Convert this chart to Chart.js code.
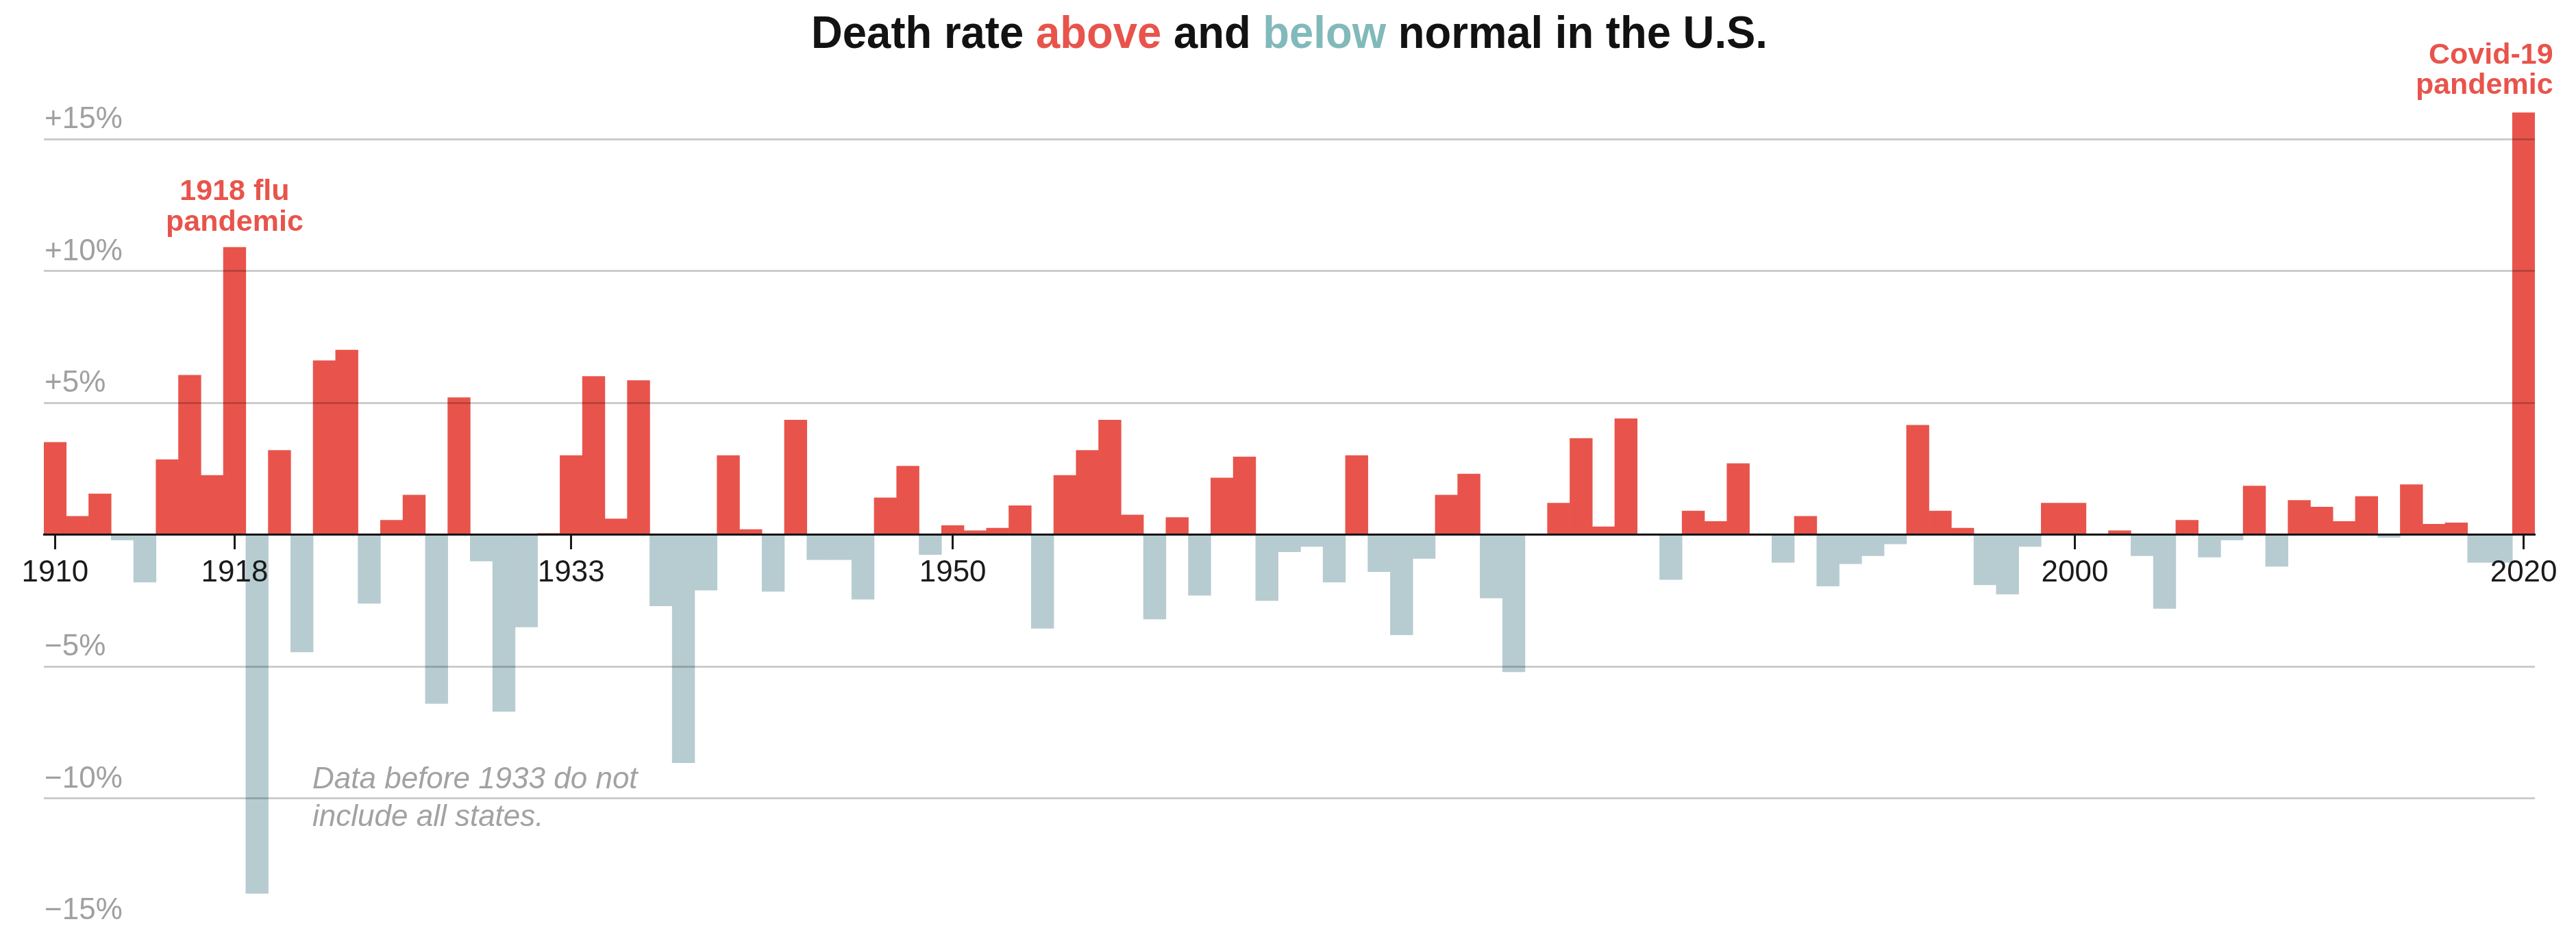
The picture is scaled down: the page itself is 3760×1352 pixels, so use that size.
<!DOCTYPE html>
<html>
<head>
<meta charset="utf-8">
<script src="https://cdn.jsdelivr.net/npm/chart.js@4.4.1/dist/chart.umd.min.js"></script>
<style>
  html, body { margin: 0; padding: 0; background: #ffffff; overflow: hidden; }
  #wrap { width: 3760px; height: 1352px; position: relative; }
</style>
</head>
<body>
<div id="wrap"><canvas id="c" width="3760" height="1352"></canvas></div>
<script>
// ---- Data ----
const years = [
  1910,1911,1912,1913,1914,1915,1916,1917,1918,1919,
  1920,1921,1922,1923,1924,1925,1926,1927,1928,1929,
  1930,1931,1932,1933,1934,1935,1936,1937,1938,1939,
  1940,1941,1942,1943,1944,1945,1946,1947,1948,1949,
  1950,1951,1952,1953,1954,1955,1956,1957,1958,1959,
  1960,1961,1962,1963,1964,1965,1966,1967,1968,1969,
  1970,1971,1972,1973,1974,1975,1976,1977,1978,1979,
  1980,1981,1982,1983,1984,1985,1986,1987,1988,1989,
  1990,1991,1992,1993,1994,1995,1996,1997,1998,1999,
  2000,2001,2002,2003,2004,2005,2006,2007,2008,2009,
  2010,2011,2012,2013,2014,2015,2016,2017,2018,2019,
  2020
];
const excessDeathPct = [
  3.5, 0.7, 1.55, -0.2, -1.8, 2.85, 6.05, 2.25, 10.9, -13.6,
  3.2, -4.45, 6.6, 7.0, -2.6, 0.55, 1.5, -6.4, 5.2, -1.0,
  -6.7, -3.5, 0.05, 3.0, 6.0, 0.6, 5.85, -2.7, -8.65, -2.1,
  3.0, 0.2, -2.15, 4.35, -0.95, -0.95, -2.45, 1.4, 2.6, -0.75,
  0.35, 0.15, 0.25, 1.1, -3.55, 2.25, 3.2, 4.35, 0.75, -3.2,
  0.65, -2.3, 2.15, 2.95, -2.5, -0.65, -0.45, -1.8, 3.0, -1.4,
  -3.8, -0.9, 1.5, 2.3, -2.4, -5.2, 0, 1.2, 3.65, 0.3,
  4.4, 0, -1.7, 0.9, 0.5, 2.7, 0, -1.05, 0.7, -1.95,
  -1.1, -0.8, -0.35, 4.15, 0.9, 0.25, -1.9, -2.25, -0.45, 1.2,
  1.2, 0, 0.15, -0.8, -2.8, 0.55, -0.85, -0.2, 1.85, -1.2,
  1.3, 1.05, 0.5, 1.45, -0.1, 1.9, 0.4, 0.45, -1.05, -1.05,
  16.0
];
const xTickYears = [1910, 1918, 1933, 1950, 2000, 2020];
const yTickValues = [-15, -10, -5, 5, 10, 15];
const yTickLabels = ['\u221215%', '\u221210%', '\u22125%', '+5%', '+10%', '+15%'];

const titleParts = [
  ['Death rate ', 'dark'],
  ['above', 'red'],
  [' and ', 'dark'],
  ['below', 'teal'],
  [' normal in the U.S.', 'dark']
];
const fluNote = ['1918 flu', 'pandemic'];
const covidNote = ['Covid-19', 'pandemic'];
const dataNote = ['Data before 1933 do not', 'include all states.'];

// ---- Styles ----
const RED = '#e8544b';
const BLUEGRAY = '#b7ccd0';
const TEAL = '#82b9ba';
const DARK = '#121212';
const colorOf = { dark: DARK, red: RED, teal: TEAL };
const FONT = "'Liberation Sans', Arial, sans-serif";

const textPlugin = {
  id: 'textPlugin',
  afterDraw(chart) {
    const ctx = chart.ctx;
    const xs = chart.scales.x;
    const area = chart.chartArea;
    ctx.save();

    // Title (condensed bold, centred over chart)
    ctx.font = 'bold 66px ' + FONT;
    ctx.textBaseline = 'alphabetic';
    ctx.textAlign = 'left';
    let total = 0;
    titleParts.forEach(p => { total += ctx.measureText(p[0]).width; });
    const targetW = 1396;
    const sx = targetW / total;
    const cx = (area.left + area.right) / 2;
    ctx.save();
    ctx.translate(cx - targetW / 2, 70);
    ctx.scale(sx, 1);
    let x = 0;
    titleParts.forEach(p => {
      ctx.fillStyle = colorOf[p[1]];
      ctx.fillText(p[0], x, 0);
      x += ctx.measureText(p[0]).width;
    });
    ctx.restore();

    // 1918 flu annotation
    ctx.font = 'bold 43px ' + FONT;
    ctx.fillStyle = RED;
    ctx.textAlign = 'center';
    const fx = xs.getPixelForValue(years.indexOf(1918));
    ctx.fillText(fluNote[0], fx, 292);
    ctx.fillText(fluNote[1], fx, 337);

    // Covid annotation
    ctx.textAlign = 'right';
    const cxx = xs.getPixelForValue(years.indexOf(2020)) + 43;
    ctx.fillText(covidNote[0], cxx, 93);
    ctx.fillText(covidNote[1], cxx, 137);

    // Data note
    ctx.font = 'italic 44px ' + FONT;
    ctx.fillStyle = '#a2a2a2';
    ctx.textAlign = 'left';
    ctx.fillText(dataNote[0], 456, 1151);
    ctx.fillText(dataNote[1], 456, 1206);

    ctx.restore();
  }
};

const ZERO_Y = 780.7, PX_PER_PCT = 38.5, H = 1352;
const yMin = (ZERO_Y - H) / PX_PER_PCT;
const yMax = ZERO_Y / PX_PER_PCT;

new Chart(document.getElementById('c'), {
  type: 'bar',
  data: {
    labels: years.map(String),
    datasets: [{
      data: excessDeathPct,
      backgroundColor: excessDeathPct.map(v => v >= 0 ? RED : BLUEGRAY),
      borderWidth: 0,
      categoryPercentage: 1.0,
      barPercentage: 1.0
    }]
  },
  options: {
    responsive: false,
    animation: false,
    devicePixelRatio: 1,
    layout: { padding: { left: 62, right: 60, top: 0, bottom: 0 } },
    plugins: { legend: { display: false }, tooltip: { enabled: false }, title: { display: false } },
    scales: {
      x: {
        type: 'category',
        position: { y: 0 },
        offset: true,
        afterFit: s => { s.paddingLeft = 0; s.paddingRight = 0; s.paddingTop = 0; s.paddingBottom = 0; },
        grid: {
          offset: false,
          z: 2,
          drawOnChartArea: false,
          drawTicks: true,
          tickLength: 20,
          tickWidth: 3,
          tickColor: c => xTickYears.includes(years[c.index]) ? '#1a1a1a' : 'rgba(0,0,0,0)'
        },
        border: { display: true, color: '#111111', width: 3, z: 2 },
        ticks: {
          z: 2,
          autoSkip: false,
          maxRotation: 0,
          minRotation: 0,
          padding: 10,
          color: '#1a1a1a',
          font: { family: FONT, size: 44 },
          callback: (v, i) => xTickYears.includes(years[i]) ? String(years[i]) : ''
        }
      },
      y: {
        type: 'linear',
        min: yMin,
        max: yMax,
        afterBuildTicks: s => { s.ticks = yTickValues.map(v => ({ value: v })); },
        afterFit: s => { s.paddingTop = 0; s.paddingBottom = 0; s.paddingLeft = 0; s.paddingRight = 0; },
        grid: {
          z: 1,
          drawTicks: false,
          color: 'rgba(0,0,0,0.2)',
          lineWidth: 3
        },
        border: { display: false },
        ticks: {
          z: 1,
          mirror: true,
          padding: 1,
          labelOffset: -28,
          color: '#a0a0a0',
          font: { family: FONT, size: 44 },
          callback: v => { const i = yTickValues.indexOf(v); return i >= 0 ? yTickLabels[i] : ''; }
        }
      }
    }
  },
  plugins: [textPlugin]
});
</script>
</body>
</html>
